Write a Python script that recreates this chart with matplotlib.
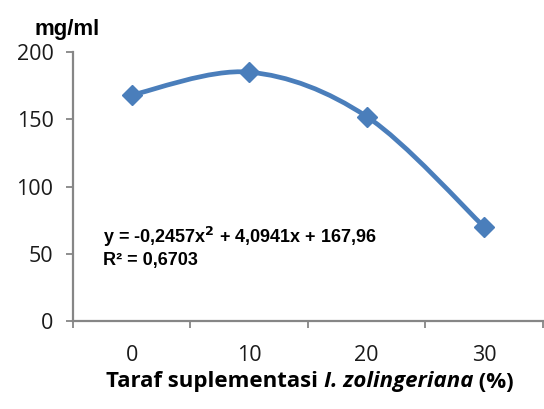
import matplotlib
matplotlib.use("Agg")
import matplotlib.pyplot as plt
from matplotlib.path import Path
from matplotlib.patches import PathPatch

# data
categories = ["0", "10", "20", "30"]
values = [168, 185, 152, 70]
yticks = [0, 50, 100, 150, 200]
equation = "y = -0,2457x$^{\\mathbf{2}}$ + 4,0941x + 167,96"
r_squared = "R² = 0,6703"

blue = "#4A7EBB"
grey = "#868686"

fig = plt.figure(figsize=(5.44, 4.09), dpi=100)
ax = fig.add_axes([0.134, 0.215, 0.864, 0.658])

xs = list(range(len(values)))

# smoothed line (Catmull-Rom as bezier segments, like Excel's smooth line)
pts = list(zip(xs, values))
verts = [pts[0]]
codes = [Path.MOVETO]
for i in range(len(pts) - 1):
    p0 = pts[i - 1] if i > 0 else pts[i]
    p1 = pts[i]
    p2 = pts[i + 1]
    p3 = pts[i + 2] if i + 2 < len(pts) else pts[i + 1]
    c1 = (p1[0] + (p2[0] - p0[0]) / 6, p1[1] + (p2[1] - p0[1]) / 6)
    c2 = (p2[0] - (p3[0] - p1[0]) / 6, p2[1] - (p3[1] - p1[1]) / 6)
    verts += [c1, c2, p2]
    codes += [Path.CURVE4] * 3
ax.add_patch(PathPatch(Path(verts, codes), facecolor="none", edgecolor=blue,
                       lw=3.4, capstyle="round", joinstyle="round", zorder=2))
ax.plot(xs, values, linestyle="none", marker="D", markersize=10.5,
        color=blue, zorder=3)

ax.set_xlim(-0.5, len(values) - 0.5)
ax.set_ylim(0, 200)
ax.set_yticks(yticks)

# category axis: ticks between categories, labels at centres
ax.set_xticks([i - 0.5 for i in range(len(values) + 1)])
ax.set_xticklabels([])
ax.set_xticks(xs, minor=True)
ax.set_xticklabels(categories, minor=True)
ax.tick_params(axis="x", which="major", length=5, width=1.3, color=grey, direction="out")
ax.tick_params(axis="x", which="minor", length=0, pad=17)
ax.tick_params(axis="y", length=5, width=1.3, color=grey, direction="out", pad=9)

for lab in ax.get_xticklabels(minor=True) + ax.get_yticklabels():
    lab.set_fontfamily("Open Sans")
    lab.set_fontsize(15.5)
    lab.set_color("#1a1a1a")

for s in ["top", "right"]:
    ax.spines[s].set_visible(False)
for s in ["left", "bottom"]:
    ax.spines[s].set_color(grey)
    ax.spines[s].set_linewidth(1.6)

# y unit label
fig.text(35 / 544, 1 - 29 / 409, "mg/ml", fontsize=16, fontweight="bold",
         family="Liberation Sans", va="center", ha="left")

# trendline label
ax.text(0.064, 0.29, equation, transform=ax.transAxes, fontsize=13,
        fontweight="bold", family="Liberation Sans", va="baseline")
ax.text(0.064, 0.208, r_squared, transform=ax.transAxes, fontsize=13,
        fontweight="bold", family="Liberation Sans", va="baseline")

# x axis title with italic species name
parts = [("Taraf suplementasi ", "normal"), ("I. zolingeriana", "italic"), (" (%)", "normal")]
fig.canvas.draw()
renderer = fig.canvas.get_renderer()
texts = []
total = 0
for s, style in parts:
    t = fig.text(0, 1 - 382 / 409, s, fontsize=16, fontweight="bold", style=style,
                 family="Open Sans", va="center", ha="left")
    w = t.get_window_extent(renderer).width
    texts.append((t, w))
    total += w
x0 = 310 - total / 2
for t, w in texts:
    t.set_x(x0 / 544)
    x0 += w

fig.savefig("out.png", dpi=100)
